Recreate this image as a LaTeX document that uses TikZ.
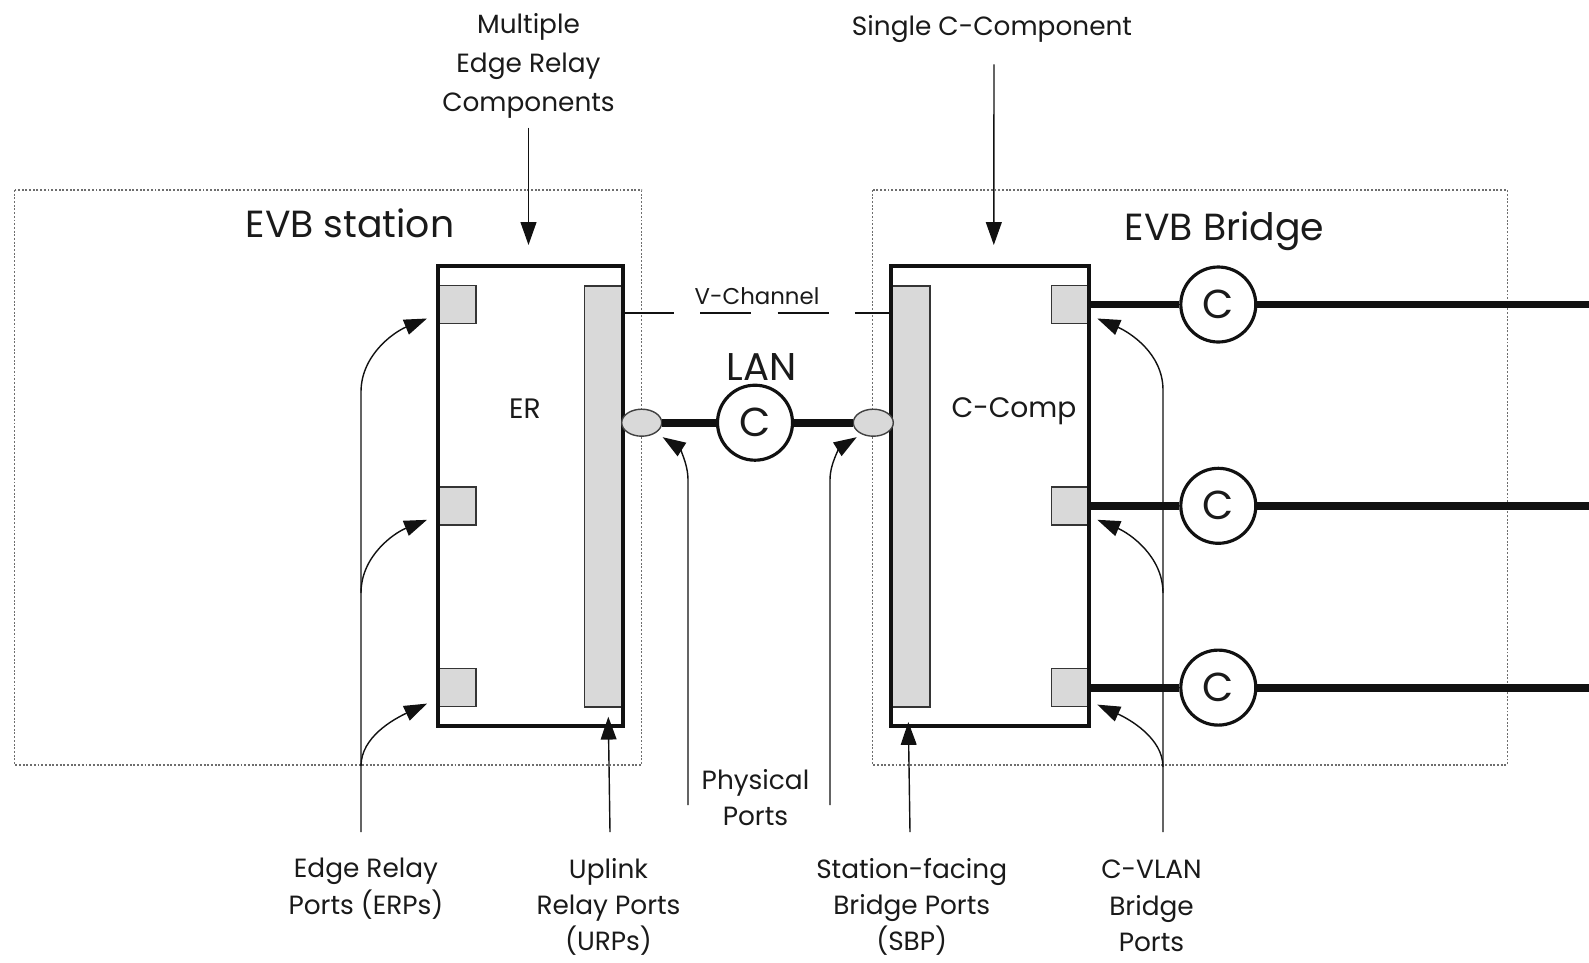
\documentclass[tikz,border=0pt]{standalone}
\usepackage{fontspec}
\setmainfont{Poppins}
\usetikzlibrary{arrows.meta,shapes.geometric,calc}
\definecolor{CPort}{HTML}{D9D9D9}
\definecolor{CLine}{HTML}{111111}
\definecolor{CDot}{HTML}{6E6E6E}
\definecolor{CText}{HTML}{1A1A1A}

\tikzset{
  relaybox/.style={draw=CLine, line width=2.3pt, fill=white, outer sep=0pt, inner sep=0pt},
  uplinkbar/.style={draw=CLine!85, line width=0.8pt, fill=CPort, minimum width=7.7mm, minimum height=84.2mm, outer sep=0pt, inner sep=0pt},
  portbox/.style={draw=CLine!85, line width=0.8pt, fill=CPort, minimum width=7.6mm, minimum height=7.6mm, outer sep=0pt, inner sep=0pt},
  cnode/.style={circle, draw=CLine, line width=1.8pt, fill=white, minimum size=15mm, inner sep=0pt, text=CText, font=\fontsize{23}{26}\selectfont},
  phyport/.style={ellipse, draw=CLine!80, line width=0.8pt, fill=CPort, minimum width=8mm, minimum height=5.4mm, inner sep=0pt},
  link/.style={line width=4.5pt, CLine},
  vlink/.style={line width=1.3pt, CLine, dash pattern=on 29pt off 15pt},
  hull/.style={draw=CDot, line width=0.9pt, dash pattern=on 1.1pt off 1pt},
  annot/.style={draw=CLine, line width=0.8pt, -{Triangle[length=13pt,width=9pt]}},
  lbl/.style={font=\fontsize{15}{20.6}\selectfont, align=center, text=CText, inner sep=0pt},
  boxtitle/.style={font=\fontsize{21.5}{25}\selectfont, text=CText, inner sep=0pt},
  comptxt/.style={font=\fontsize{16}{19}\selectfont, text=CText, inner sep=0pt},
}

\begin{document}
\begin{tikzpicture}[x=0.2mm, y=-0.2mm]
  \useasboundingbox (0,0) rectangle (1589,962);

  % ============================================
  % EVB STATION (left)
  % ============================================
  \draw[hull] (14.7,190) rectangle (641.7,765);
  \node[boxtitle, anchor=base] (stn) at (350,237) {EVB station};

  % Edge relay with its uplink bar and ports
  \node[relaybox, minimum width=37mm, minimum height=91.94mm] (erbox) at (530.5,495.85) {};
  \node[uplinkbar] (urp) at (604,496.5) {};
  \foreach \n/\y in {1/304.5, 2/505.8, 3/687.6} {
    \node[portbox] (erp\n) at (457,\y) {};
  }
  \draw[relaybox, fill=none] (erbox.south west) rectangle (erbox.north east);
  \node[comptxt, anchor=base] (ertxt) at (525,418) {ER};

  % ============================================
  % EVB BRIDGE (right)
  % ============================================
  \draw[hull] (872.7,190) rectangle (1507.3,765);
  \node[boxtitle, anchor=base] (brg) at (1224.5,240) {EVB Bridge};

  % C-component with station-facing bar and C-VLAN ports
  \node[relaybox, minimum width=39.72mm, minimum height=91.94mm] (ccbox) at (990,495.85) {};
  \node[uplinkbar, minimum width=7.86mm] (sbp) at (910.35,496.5) {};
  \foreach \n/\y in {1/304.5, 2/505.8, 3/687.6} {
    \node[portbox] (cvp\n) at (1070.3,\y) {};
  }
  \draw[relaybox, fill=none] (ccbox.south west) rectangle (ccbox.north east);
  \node[comptxt, anchor=base] (cctxt) at (1014,417) {C-Comp};

  % Outgoing links with C circles
  \foreach \n/\y in {1/304.5, 2/505.8, 3/687.6} {
    \node[cnode] (cv\n) at (1218.3,\y) {C};
    \coordinate (out\n) at (1589,\y);
    \draw[link] (cvp\n) -- (cv\n) -- (out\n);
  }

  % ============================================
  % LAN and V-Channel between the two
  % ============================================
  \draw[vlink] ($(erbox.north east)+(0,47.3)$) -- ($(ccbox.north west)+(0,47.3)$);
  \node[font=\fontsize{13}{15}\selectfont, text=CText, inner sep=0pt, anchor=base] (vch) at (757,304) {V-Channel};

  \node[phyport] (phl) at (641.7,422.7) {};
  \node[phyport] (phr) at (873.3,422.7) {};
  \node[cnode] (lan) at (755,422.7) {C};
  \draw[link] (phl) -- (lan) -- (phr);
  \node[font=\fontsize{22}{26}\selectfont, text=CText, inner sep=0pt, anchor=base] (lantxt) at (761.7,380) {LAN};

  % ============================================
  % Labels and pointers
  % ============================================
  \node[lbl, font=\fontsize{15}{22.2}\selectfont, anchor=north] (erlbl) at (528.5,13) {Multiple\\Edge Relay\\Components};
  \node[lbl, anchor=base] (cclbl) at (992,35) {Single C-Component};
  \draw[annot] ($(erlbl.south)+(0,9)$) -- ($(erbox.north)+(-2,-21)$);
  \draw[annot] ($(cclbl.south)+(2,22)$) -- ($(ccbox.north)+(3.8,-21)$);

  \node[lbl, anchor=north] (erplbl) at (366,858) {Edge Relay\\Ports (ERPs)};
  \node[lbl, anchor=north] (urplbl) at (608.5,858) {Uplink\\Relay Ports\\(URPs)};
  \node[lbl, anchor=north] (phylbl) at (755.5,769) {Physical\\Ports};
  \node[lbl, anchor=north] (sbplbl) at (911.7,858) {Station-facing\\Bridge Ports\\(SBP)};
  \node[lbl, anchor=north] (cvlbl) at (1151.5,860) {C-VLAN\\Bridge\\Ports};

  % feet of the pointers
  \coordinate (erpfoot) at (361,832);
  \coordinate (urpfoot) at (610,832);
  \coordinate (phlfoot) at (688,805);
  \coordinate (phrfoot) at (830,805);
  \coordinate (sbpfoot) at (910,832);
  \coordinate (cvpfoot) at (1163,832);

  % edge relay ports
  \draw[annot] (erpfoot) -- (361,392) .. controls (361,355) and (394,332) .. ($(erp1.south west)+(-11,-5)$);
  \draw[annot] (361,593) .. controls (361,556) and (394,533) .. ($(erp2.south west)+(-11,-5)$);
  \draw[annot] (361,766) .. controls (361,737) and (394,719) .. ($(erp3.south west)+(-11,-3)$);

  % uplink and station-facing bars
  \draw[annot] (urpfoot) -- ($(urp.south)+(4.3,9.7)$);
  \draw[annot] (sbpfoot) -- ($(sbp.south)+(-2,15)$);

  % physical ports
  \draw[annot] (phlfoot) -- (688,480) .. controls (688,462) and (678,447) .. ($(phl)+(21,14.5)$);
  \draw[annot] (phrfoot) -- (830,480) .. controls (830,462) and (841,447) .. ($(phr)+(-16.6,14.5)$);

  % C-VLAN bridge ports
  \draw[annot] (cvpfoot) -- (1163,390) .. controls (1163,353) and (1129,332) .. ($(cvp1.south east)+(8,-5)$);
  \draw[annot] (1163,593) .. controls (1163,556) and (1129,533) .. ($(cvp2.south east)+(8,-5)$);
  \draw[annot] (1163,767) .. controls (1163,738) and (1129,719) .. ($(cvp3.south east)+(8,-2)$);

\end{tikzpicture}
\end{document}
